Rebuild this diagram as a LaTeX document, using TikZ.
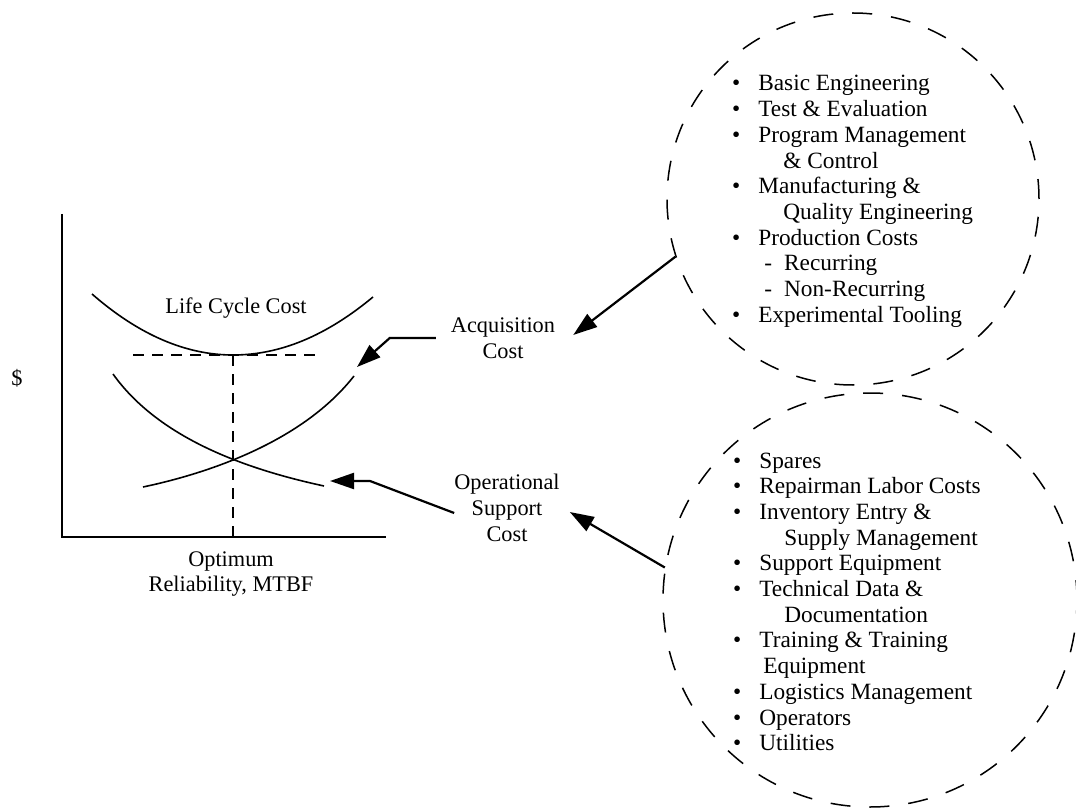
\documentclass[tikz,border=0pt]{standalone}
\usepackage{fontspec}
\setmainfont{Liberation Serif}
\usetikzlibrary{arrows.meta, positioning}

\begin{document}
\begin{tikzpicture}[
    x=1pt, y=-1pt,
    curve/.style={line width=1.6pt},
    axisline/.style={line width=2pt},
    guide/.style={line width=2.6pt, dash pattern=on 11pt off 8pt},
    pointer/.style={line width=2.2pt, -{Triangle[length=24pt, width=16pt]}},
    ring/.style={circle, draw, line width=1.5pt, dash pattern=on 20pt off 19pt, inner sep=0pt},
    caption/.style={inner sep=0pt, align=center, font=\fontsize{22.3}{25.8}\selectfont},
    listbox/.style={inner sep=0pt, anchor=base west, font=\fontsize{23.3}{25.7}\selectfont}
]
\useasboundingbox (0,0) rectangle (1076,810);

% Axes
\draw[axisline] (62,214) -- (62,537) -- (386,537);

% Cost curves
\draw[curve] (92,294) .. controls (139,335) and (186,355) .. (233,355) .. controls (280,355) and (326,336) .. (373,297);
\draw[curve] (113,374) .. controls (160,440) and (250,470) .. (324,486);
\draw[curve] (143,487) .. controls (200,475) and (300,445) .. (354,376);

% Optimum guides
\coordinate (optimum) at (233,355);
\draw[guide] (133,355) -- (322,355);
\draw[guide] (optimum) -- (233,537);

% Curve tips
\coordinate (acqtip) at (357,367);
\coordinate (suptip) at (330,481);

% Graph labels
\node[caption, anchor=base] (lcclabel) at (236,313) {Life Cycle Cost};
\node[caption] (dollar) at (17,378) {\$};
\node[caption] (xlabel) at (231,574) {Optimum\\Reliability, MTBF};

% Cost labels
\node[caption] (acqlabel) at (503,338) {Acquisition\\Cost};
\node[caption] (suplabel) at (507,508) {Operational\\Support\\Cost};

% Dashed circles
\node[ring, minimum size=372pt] (acqring) at (853,199) {};
\node[ring, minimum size=414pt] (supring) at (870,600) {};

% Acquisition items
\node[listbox] (acqlist) at (732,91) {\begin{tabular}[t]{@{}l@{\hspace{18pt}}l@{}}
\textbullet & Basic Engineering\\
\textbullet & Test \& Evaluation\\
\textbullet & Program Management\\
 & \hspace{25pt}\& Control\\
\textbullet & Manufacturing \&\\
 & \hspace{25pt}Quality Engineering\\
\textbullet & Production Costs\\
 & \hspace{6pt}-\hspace{12pt}Recurring\\
 & \hspace{6pt}-\hspace{12pt}Non-Recurring\\
\textbullet & Experimental Tooling
\end{tabular}};

% Support items
\node[listbox] (suplist) at (733,468) {\begin{tabular}[t]{@{}l@{\hspace{18pt}}l@{}}
\textbullet & Spares\\
\textbullet & Repairman Labor Costs\\
\textbullet & Inventory Entry \&\\
 & \hspace{25pt}Supply Management\\
\textbullet & Support Equipment\\
\textbullet & Technical Data \&\\
 & \hspace{25pt}Documentation\\
\textbullet & Training \& Training\\
 & \hspace{4pt}Equipment\\
\textbullet & Logistics Management\\
\textbullet & Operators\\
\textbullet & Utilities
\end{tabular}};

% Arrows
\draw[pointer] (acqring.198) -- ([xshift=18pt, yshift=3pt]acqlabel.east);
\draw[pointer] (supring.171) -- ([xshift=10pt, yshift=-4pt]suplabel.east);
\draw[pointer] ([xshift=-15pt]acqlabel.west) -- ++(-46,0) -- (acqtip);
\draw[pointer] ([yshift=-5pt]suplabel.west) -- ([xshift=40pt]suptip) -- (suptip);

\end{tikzpicture}
\end{document}
